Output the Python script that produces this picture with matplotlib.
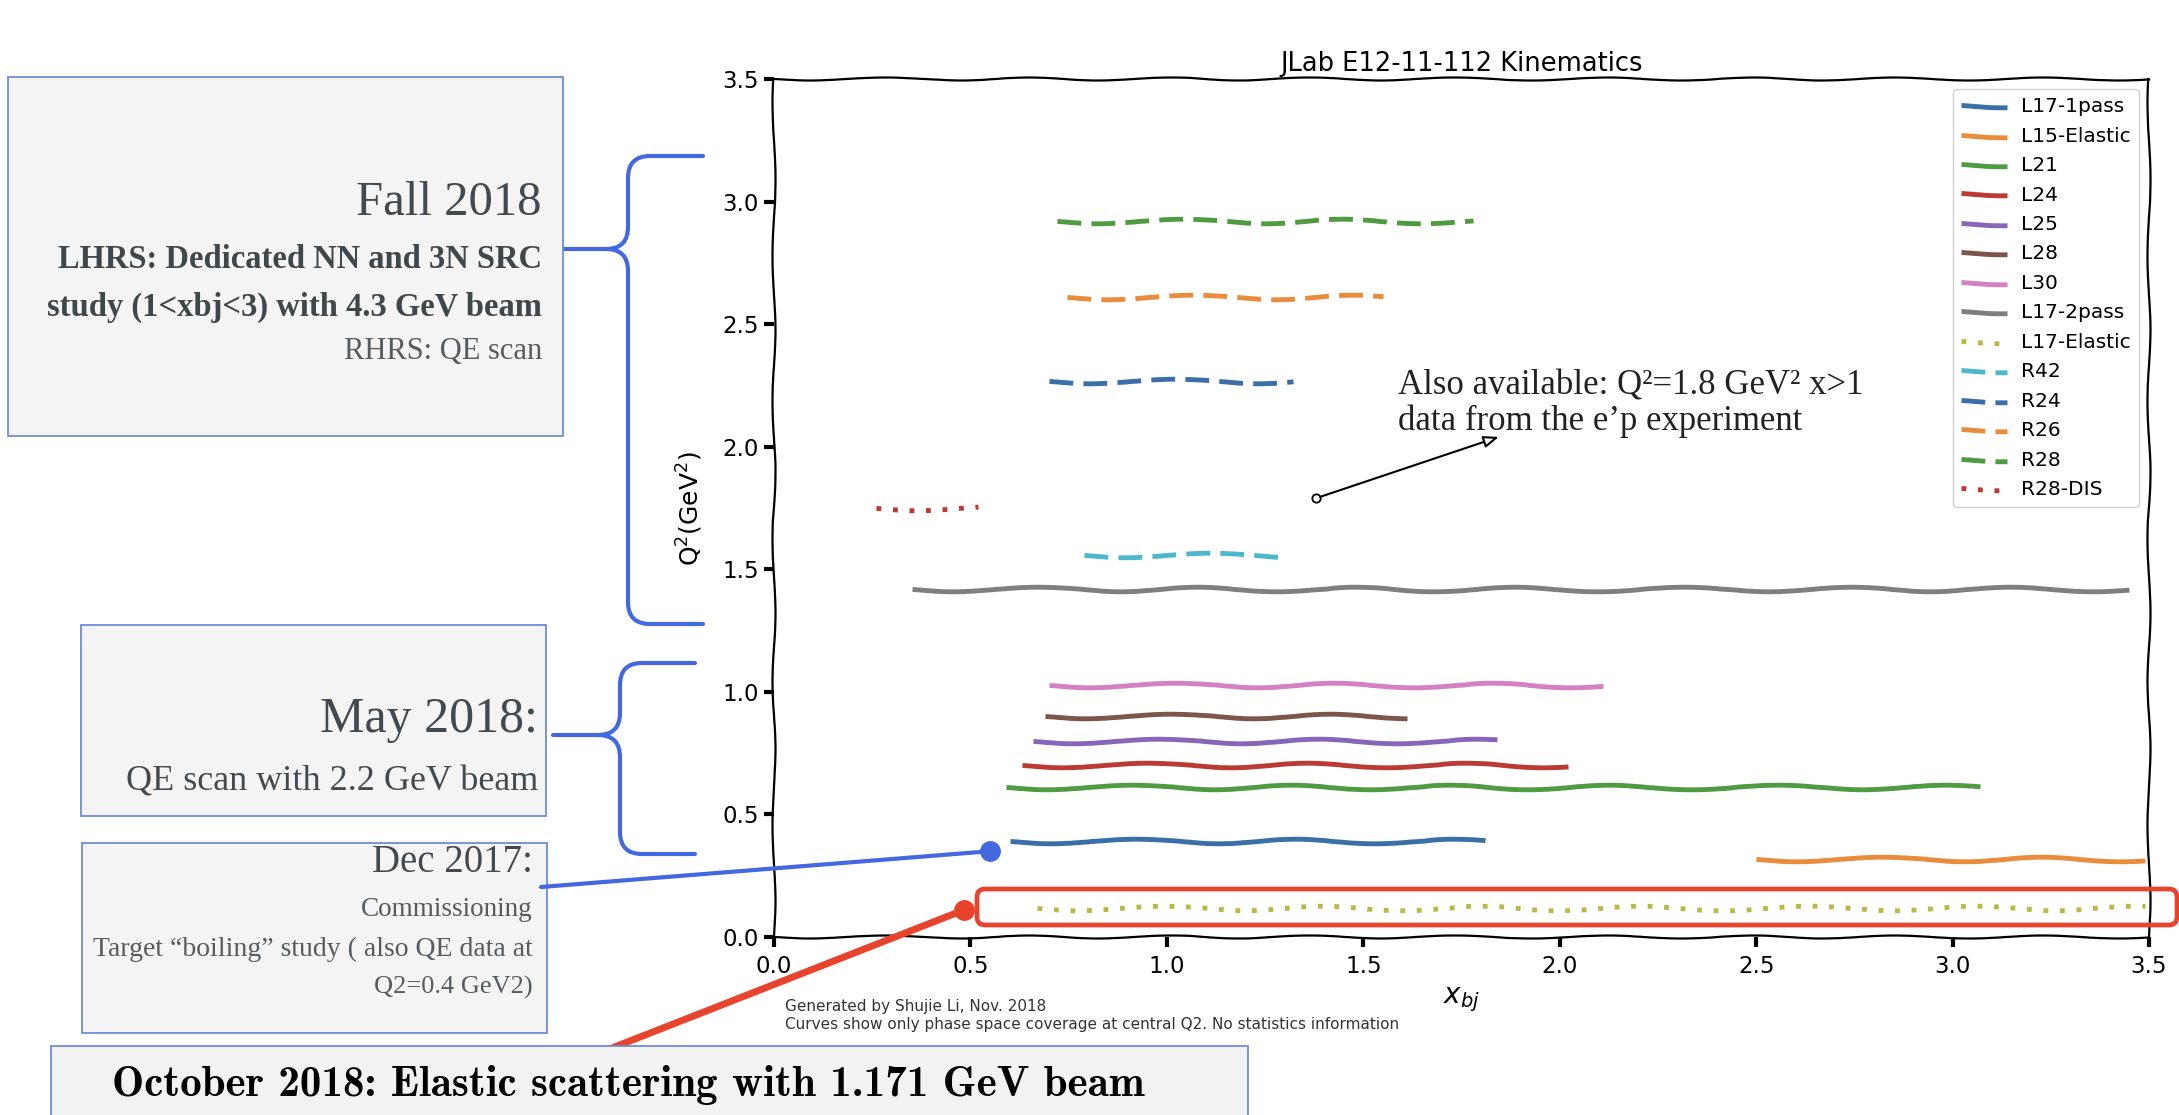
import os
import matplotlib
import matplotlib.pyplot as plt
from matplotlib.patches import Rectangle, FancyBboxPatch, PathPatch, ConnectionPatch
from matplotlib.path import Path
from matplotlib.font_manager import FontProperties
from matplotlib.ticker import FormatStrFormatter

W, H = 2179, 1115

# spectrometer settings: name, central Q2 and x_bj coverage
labels = ['L17-1pass', 'L15-Elastic', 'L21', 'L24', 'L25', 'L28', 'L30', 'L17-2pass',
          'L17-Elastic', 'R42', 'R24', 'R26', 'R28', 'R28-DIS']
q2_central = [0.39, 0.32, 0.61, 0.70, 0.80, 0.90, 1.03, 1.42,
              0.12, 1.56, 2.27, 2.61, 2.92, 1.75]
xbj_min = [0.60, 2.50, 0.59, 0.63, 0.66, 0.69, 0.70, 0.35,
           0.67, 0.79, 0.70, 0.745, 0.72, 0.26]
xbj_max = [1.81, 3.49, 3.07, 2.02, 1.84, 1.61, 2.11, 3.45,
           3.49, 1.30, 1.32, 1.55, 1.78, 0.52]
line_style = ['solid'] * 8 + ['dotted'] + ['dashed'] * 4 + ['dotted']
line_color = ['#3a6fa8', '#e98c3c', '#4f9b40', '#bb3a33', '#8865b9', '#7d5649', '#d57fc5',
              '#7f7f7f', '#b8ba48', '#4db8cc', '#3a6fa8', '#e98c3c', '#4f9b40', '#bb3a33']

xticks = [0.0, 0.5, 1.0, 1.5, 2.0, 2.5, 3.0, 3.5]
yticks = [0.0, 0.5, 1.0, 1.5, 2.0, 2.5, 3.0, 3.5]

# points the notes refer to (x_bj, Q2)
dec2017_point = (0.55, 0.35)
oct2018_point = (0.483, 0.11)
ep_point = (1.38, 1.79)
ep_arrow_tip = (1.845, 2.04)

DASHES = {'solid': None, 'dashed': (4.9, 2.1), 'dotted': (1.0, 2.4)}
BLUE = '#4468e0'
RED = '#e8432d'
BOX_FC = '#f4f4f4'
BOX_EC = '#6f8cd8'
SERIF = 'Liberation Serif'

fig = plt.figure(figsize=(W / 100, H / 100), dpi=100, facecolor='white')
ax = fig.add_axes([774 / W, 1 - 937 / H, 1375 / W, 858 / H])

for lab, q, x0, x1, ls, c in zip(labels, q2_central, xbj_min, xbj_max, line_style, line_color):
    ln, = ax.plot([x0, x1], [q, q], color=c, lw=3.5, label=lab, solid_capstyle='butt')
    if DASHES[ls] is not None:
        ln.set_dashes(DASHES[ls])
    ln.set_sketch_params(2.3, 180, 2)

ax.set_xlim(0, 3.5)
ax.set_ylim(0, 3.5)
ax.set_xticks(xticks)
ax.set_yticks(yticks)
ax.xaxis.set_major_formatter(FormatStrFormatter('%.1f'))
ax.yaxis.set_major_formatter(FormatStrFormatter('%.1f'))
ax.tick_params(direction='out', length=7, width=3, labelsize=16.5)
ax.tick_params(axis='x', pad=6)
ax.tick_params(axis='y', pad=4)
for sp in ax.spines.values():
    sp.set_linewidth(1.6)
    sp.set_sketch_params(1.5, 160, 2)

ax.set_title('JLab E12-11-112 Kinematics', fontsize=18.5)
ax.set_xlabel('$x_{bj}$', fontsize=20)
ax.set_ylabel('Q$^2$(GeV$^2$)', fontsize=18)
ax.xaxis.set_label_coords(0.5, -0.056)
ax.yaxis.set_label_coords(-0.05, 0.5)

leg = ax.legend(loc='upper right', fontsize=14.5, handlelength=2.3, labelspacing=0.52,
                borderpad=0.4, handletextpad=0.7, framealpha=1.0, edgecolor='#d0d0d0')

# e'p note with arrow
ax.annotate('', xy=ep_arrow_tip, xytext=ep_point,
            arrowprops=dict(arrowstyle='-|>,head_length=0.9,head_width=0.35', fc='white',
                            ec='black', lw=1.5, shrinkA=3, shrinkB=0))
ax.plot(*ep_point, 'o', mfc='white', mec='black', ms=6, mew=1.3)

# overlay in figure pixels for the notes around the plot
ov = fig.add_axes([0, 0, 1, 1], zorder=3)
ov.set_xlim(0, W)
ov.set_ylim(H, 0)
ov.set_autoscale_on(False)
ov.axis('off')
ov.patch.set_visible(False)

ov.text(1398, 386, 'Also available: Q²=1.8 GeV² x>1', family=SERIF, fontsize=25,
        color='#222222', ha='left', va='center')
ov.text(1398, 421, 'data from the e’p experiment', family=SERIF, fontsize=25,
        color='#222222', ha='left', va='center')

ov.text(785, 1007, 'Generated by Shujie Li, Nov. 2018', fontsize=11, color='#333333',
        ha='left', va='center')
ov.text(785, 1025, 'Curves show only phase space coverage at central Q2. No statistics information',
        fontsize=11, color='#333333', ha='left', va='center')


def box(x, y, w, h):
    ov.add_patch(Rectangle((x, y), w, h, fc=BOX_FC, ec=BOX_EC, lw=1.3, zorder=2))


def brace(xa, xs, xt, yt, ym, yb, r=22):
    verts = [(xa, yt), (xs + r, yt), (xs, yt), (xs, yt + r),
             (xs, ym - r), (xs, ym), (xs - r, ym), (xt, ym),
             (xs - r, ym), (xs, ym), (xs, ym + r),
             (xs, yb - r), (xs, yb), (xs + r, yb), (xa, yb)]
    codes = [Path.MOVETO, Path.LINETO, Path.CURVE3, Path.CURVE3,
             Path.LINETO, Path.CURVE3, Path.CURVE3, Path.LINETO,
             Path.MOVETO, Path.CURVE3, Path.CURVE3,
             Path.LINETO, Path.CURVE3, Path.CURVE3, Path.LINETO]
    ov.add_patch(PathPatch(Path(verts, codes), fc='none', ec=BLUE, lw=3, capstyle='round'))


# Fall 2018
box(8, 77, 555, 359)
ov.text(542, 203, 'Fall 2018', family=SERIF, fontsize=35, color='#434a4f', ha='right', va='center')
ov.text(542, 260, 'LHRS: Dedicated NN and 3N SRC', family=SERIF, weight='bold', fontsize=23.5,
        color='#40474b', ha='right', va='center')
ov.text(542, 307, 'study (1<xbj<3) with 4.3 GeV beam', family=SERIF, weight='bold', fontsize=23.5,
        color='#40474b', ha='right', va='center')
ov.text(542, 352, 'RHRS: QE scan', family=SERIF, fontsize=22, color='#555b5f', ha='right', va='center')
brace(703, 628, 560, 156, 249, 624)

# May 2018
box(81, 625, 465, 191)
ov.text(538, 720, 'May 2018:', family=SERIF, fontsize=36, color='#434a4f', ha='right', va='center')
ov.text(538, 782, 'QE scan with 2.2 GeV beam', family=SERIF, fontsize=26, color='#434a4f',
        ha='right', va='center')
brace(695, 620, 553, 663, 735, 854)

# Dec 2017
box(82, 843, 465, 190)
ov.text(533, 863, 'Dec 2017:', family=SERIF, fontsize=28, color='#434a4f', ha='right', va='center')
ov.text(533, 910, 'Commissioning', family=SERIF, fontsize=19.5, color='#555b5f', ha='right', va='center')
ov.text(533, 949, 'Target “boiling” study ( also QE data at', family=SERIF, fontsize=20,
        color='#555b5f', ha='right', va='center')
ov.text(533, 987, 'Q2=0.4 GeV2)', family=SERIF, fontsize=19, color='#555b5f', ha='right', va='center')

ov.add_artist(ConnectionPatch(xyA=(541, 887), coordsA=ov.transData, xyB=dec2017_point,
                              coordsB=ax.transData, color=BLUE, lw=3, zorder=3))
ov.plot(*dec2017_point, 'o', color=BLUE, ms=14, transform=ax.transData, clip_on=False, zorder=4)

# October 2018 elastic run
ov.add_patch(FancyBboxPatch((977, 889), 1200, 36, boxstyle='round,pad=0,rounding_size=8',
                            fc='none', ec=RED, lw=3.4, zorder=3))
ov.add_artist(ConnectionPatch(xyA=(612, 1048), coordsA=ov.transData, xyB=oct2018_point,
                              coordsB=ax.transData, color=RED, lw=5, zorder=3))
ov.plot(*oct2018_point, 'o', color=RED, ms=14, transform=ax.transData, clip_on=False, zorder=4)

ov.add_patch(Rectangle((51, 1046), 1197, 100, fc='#f2f2f2', ec=BOX_EC, lw=1.3, zorder=5))
cmb = FontProperties(fname=os.path.join(matplotlib.get_data_path(), 'fonts', 'ttf', 'cmb10.ttf'),
                     size=31)
ov.text(112, 1085, 'October 2018: Elastic scattering with 1.171 GeV beam', fontproperties=cmb,
        color='black', ha='left', va='center', zorder=6)

fig.savefig('out.png', dpi=100, facecolor='white')
